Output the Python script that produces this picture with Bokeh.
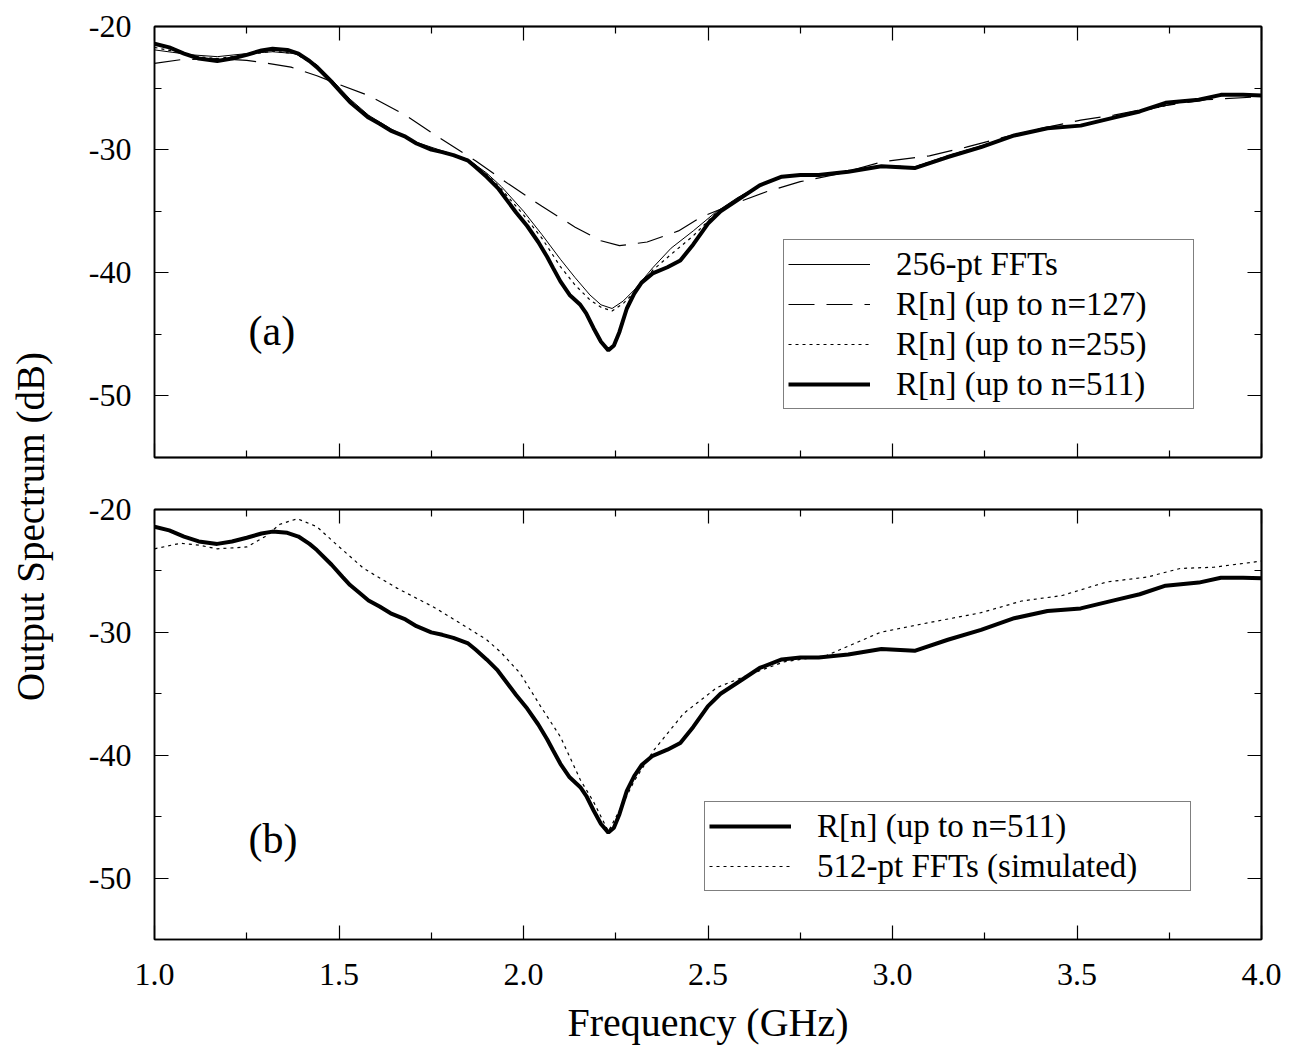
import numpy as np
from bokeh.plotting import figure
from bokeh.models import (Range1d, FixedTicker, LinearAxis, PrintfTickFormatter,
                          Legend, LegendItem, Label)
from bokeh.layouts import row, column
from bokeh.embed import file_html
from bokeh.resources import INLINE

FONT = "Liberation Serif"

# ---------------- data ----------------
# R[n] (up to n=511)  -- thick line, both panels
r511_f = [1.00, 1.04, 1.08, 1.12, 1.17, 1.21, 1.25, 1.29, 1.32, 1.36, 1.39, 1.42, 1.44,
          1.48, 1.51, 1.53, 1.56, 1.58, 1.61, 1.64, 1.68, 1.71, 1.75, 1.78, 1.81, 1.85,
          1.87, 1.90, 1.93, 1.955, 1.98, 2.01, 2.04, 2.064, 2.08, 2.10, 2.125, 2.154,
          2.17, 2.19, 2.21, 2.23, 2.245, 2.26, 2.28, 2.30, 2.32, 2.35, 2.39, 2.425, 2.46,
          2.50, 2.534, 2.59, 2.64, 2.70, 2.75, 2.80, 2.88, 2.97, 3.06, 3.15, 3.24, 3.33,
          3.42, 3.51, 3.60, 3.67, 3.74, 3.83, 3.89, 3.95, 4.00]
r511_db = [-21.4, -21.7, -22.2, -22.6, -22.8, -22.6, -22.3, -21.95, -21.8, -21.9, -22.2,
           -22.8, -23.3, -24.5, -25.5, -26.15, -26.9, -27.4, -27.9, -28.45, -28.95, -29.5,
           -30.0, -30.2, -30.45, -30.9, -31.4, -32.2, -33.1, -34.1, -35.1, -36.2, -37.5,
           -38.7, -39.6, -40.7, -41.8, -42.6, -43.3, -44.5, -45.6, -46.3, -45.9, -44.8,
           -42.9, -41.7, -40.8, -40.05, -39.55, -39.0, -37.7, -36.0, -35.0, -33.9, -32.9,
           -32.2, -32.05, -32.05, -31.8, -31.35, -31.5, -30.6, -29.8, -28.85, -28.26,
           -28.05, -27.4, -26.9, -26.2, -25.95, -25.55, -25.55, -25.6]

# 256-pt FFTs -- thin solid line
fft256_f = [1.00, 1.05, 1.10, 1.17, 1.25, 1.32, 1.38, 1.44, 1.48, 1.53, 1.58, 1.64, 1.71,
            1.78, 1.85, 1.90, 1.94, 2.00, 2.05, 2.10, 2.14, 2.18, 2.21, 2.24, 2.27, 2.30,
            2.35, 2.40, 2.46, 2.52, 2.58, 2.64, 2.70, 2.80, 2.90, 2.97, 3.06, 3.15, 3.24,
            3.33, 3.42, 3.51, 3.60, 3.70, 3.80, 3.90, 4.00]
fft256_db = [-21.9, -22.1, -22.3, -22.45, -22.2, -22.05, -22.2, -23.1, -24.3, -25.9, -27.2,
             -28.3, -29.4, -30.1, -30.8, -31.9, -33.0, -35.0, -36.9, -38.9, -40.4, -41.8,
             -42.6, -42.9, -42.3, -41.4, -39.6, -38.0, -36.6, -35.1, -33.9, -32.9, -32.2,
             -32.0, -31.7, -31.3, -31.4, -30.5, -29.7, -28.8, -28.25, -28.0, -27.35, -26.7,
             -26.0, -25.6, -25.6]

# R[n] (up to n=255) -- dotted line
r255_f = [1.00, 1.05, 1.10, 1.17, 1.25, 1.32, 1.38, 1.44, 1.48, 1.53, 1.58, 1.64, 1.71,
          1.78, 1.85, 1.90, 1.94, 2.00, 2.05, 2.10, 2.14, 2.18, 2.21, 2.24, 2.27, 2.30,
          2.35, 2.40, 2.46, 2.52, 2.58, 2.64, 2.70, 2.80, 2.90, 2.97, 3.06, 3.15, 3.24,
          3.33, 3.42, 3.51, 3.60, 3.70, 3.80, 3.90, 4.00]
r255_db = [-21.7, -22.0, -22.4, -22.6, -22.3, -22.0, -22.2, -23.2, -24.4, -26.0, -27.3,
           -28.4, -29.5, -30.15, -30.85, -32.0, -33.2, -35.3, -37.2, -39.5, -41.0, -42.2,
           -42.8, -43.1, -42.5, -41.6, -39.8, -38.5, -37.0, -35.2, -33.95, -32.9, -32.2,
           -32.0, -31.7, -31.3, -31.4, -30.5, -29.7, -28.8, -28.25, -28.0, -27.35, -26.7,
           -26.0, -25.6, -25.6]

# R[n] (up to n=127) -- dashed line
r127_f = [1.00, 1.07, 1.17, 1.25, 1.29, 1.37, 1.44, 1.50, 1.58, 1.68, 1.77, 1.87, 1.96,
          2.05, 2.14, 2.21, 2.26, 2.335, 2.42, 2.48, 2.57, 2.66, 2.75, 2.85, 2.97, 3.10,
          3.20, 3.30, 3.40, 3.51, 3.60, 3.70, 3.85, 4.00]
r127_db = [-23.0, -22.7, -22.6, -22.75, -22.9, -23.3, -24.0, -24.7, -25.6, -27.2, -29.0,
           -30.9, -32.8, -34.6, -36.3, -37.4, -37.8, -37.5, -36.6, -35.5, -34.4, -33.4,
           -32.6, -32.0, -31.0, -30.5, -29.8, -29.0, -28.3, -27.6, -27.2, -26.6, -25.95,
           -25.7]

# 512-pt FFTs (simulated) -- dotted line, panel (b)
fft512_f = [1.00, 1.07, 1.12, 1.17, 1.25, 1.30, 1.34, 1.387, 1.44, 1.495, 1.567, 1.657,
            1.757, 1.847, 1.90, 1.938, 1.99, 2.046, 2.10, 2.154, 2.19, 2.23, 2.26, 2.30,
            2.353, 2.434, 2.524, 2.615, 2.706, 2.82, 2.967, 3.10, 3.24, 3.35, 3.46, 3.58,
            3.69, 3.78, 3.87, 4.00]
fft512_db = [-23.2, -22.75, -22.9, -23.2, -23.05, -22.2, -21.2, -20.75, -21.4, -22.9, -24.8,
             -26.4, -27.95, -29.6, -30.6, -31.6, -33.3, -36.0, -38.5, -42.0, -43.8, -46.2,
             -44.5, -42.1, -39.6, -36.6, -34.5, -33.4, -32.4, -31.9, -30.0, -29.2, -28.4,
             -27.45, -27.0, -25.9, -25.5, -24.8, -24.7, -24.2]

x_major = [1.0, 1.5, 2.0, 2.5, 3.0, 3.5, 4.0]
x_minor = [1.25, 1.75, 2.25, 2.75, 3.25, 3.75]
y_major = [-50, -40, -30, -20]
y_minor = [-55, -45, -35, -25]

x_title = "Frequency (GHz)"
y_title = "Output Spectrum (dB)"

# ---------------- helpers ----------------
xr = Range1d(1.0, 4.0)


def base_axis(ticker, formatter=None):
    ax = LinearAxis(ticker=ticker)
    if formatter is not None:
        ax.formatter = formatter
    ax.axis_line_color = "black"
    ax.axis_line_width = 1.5
    ax.major_tick_in = 14
    ax.major_tick_out = 0
    ax.minor_tick_in = 7
    ax.minor_tick_out = 0
    ax.major_tick_line_color = "black"
    ax.minor_tick_line_color = "black"
    ax.major_tick_line_width = 1.2
    ax.minor_tick_line_width = 1.2
    ax.axis_label_standoff = 0
    return ax


def labelled_axis(major, minor, fmt, standoff):
    ax = base_axis(FixedTicker(ticks=major, minor_ticks=minor), PrintfTickFormatter(format=fmt))
    ax.major_label_text_font = FONT
    ax.major_label_text_font_size = "32px"
    ax.major_label_text_color = "black"
    ax.major_label_standoff = standoff
    return ax


def tick_only_axes(p, side, major, minor):
    # two label-free axes on the same edge: long ticks at majors, short at minors
    for ticks, length in ((major, 14), (minor, 7)):
        ax = base_axis(FixedTicker(ticks=[], minor_ticks=ticks))
        ax.major_tick_in = 0
        ax.minor_tick_in = length
        ax.major_label_standoff = 0
        p.add_layout(ax, side)


def make_panel(height, mb_top, mb_bottom, x_labels):
    p = figure(width=1213, height=height, x_range=xr, y_range=Range1d(-55, -20),
               output_backend="svg", toolbar_location=None,
               x_axis_type=None, y_axis_type=None,
               min_border_left=86, min_border_right=20,
               min_border_top=mb_top, min_border_bottom=mb_bottom)
    p.outline_line_color = "black"
    p.outline_line_width = 1.5
    p.background_fill_color = "white"
    p.border_fill_color = "white"
    if x_labels:
        p.add_layout(labelled_axis(x_major, x_minor, "%.1f", 24), "below")
    else:
        tick_only_axes(p, "below", x_major, x_minor)
    tick_only_axes(p, "above", x_major, x_minor)
    p.add_layout(labelled_axis(y_major, y_minor, "%d", 23), "left")
    tick_only_axes(p, "right", y_major, y_minor)
    return p


def style_legend(lg, label_width, loc):
    lg.location = loc
    lg.margin = 0
    lg.padding = 4
    lg.spacing = 0
    lg.glyph_width = 82
    lg.glyph_height = 40
    lg.label_height = 40
    lg.label_standoff = 26
    lg.label_width = label_width
    lg.label_text_font = FONT
    lg.label_text_font_size = "33px"
    lg.label_text_color = "black"
    lg.label_text_baseline = "middle"
    lg.border_line_color = "black"
    lg.border_line_width = 1
    lg.background_fill_color = "white"
    lg.background_fill_alpha = 1.0


# ---------------- panel (a) ----------------
pa = make_panel(482, 26, 25, False)
r_d = pa.line(r127_f, r127_db, line_color="black", line_width=1.2, line_dash="26 12")
r_t = pa.line(fft256_f, fft256_db, line_color="black", line_width=1.0)
r_o = pa.line(r255_f, r255_db, line_color="black", line_width=1.2, line_dash="3 4")
r_k = pa.line(r511_f, r511_db, line_color="black", line_width=4)
lg_a = Legend(items=[LegendItem(label="256-pt FFTs", renderers=[r_t]),
                     LegendItem(label="R[n] (up to n=127)", renderers=[r_d]),
                     LegendItem(label="R[n] (up to n=255)", renderers=[r_o]),
                     LegendItem(label="R[n] (up to n=511)", renderers=[r_k])])
style_legend(lg_a, 293, (629, 48))
pa.add_layout(lg_a)
pa.add_layout(Label(x=1.255, y=-44.7, text="(a)", text_font=FONT, text_font_size="42px",
                    text_baseline="middle", text_align="left", text_color="black"))

# ---------------- panel (b) ----------------
pb = make_panel(517, 27, 60, True)
s_o = pb.line(fft512_f, fft512_db, line_color="black", line_width=1.2, line_dash="3 4")
s_k = pb.line(r511_f, r511_db, line_color="black", line_width=4)
lg_b = Legend(items=[LegendItem(label="R[n] (up to n=511)", renderers=[s_k]),
                     LegendItem(label="512-pt FFTs (simulated)", renderers=[s_o])])
style_legend(lg_b, 369, (550, 48))
pb.add_layout(lg_b)
pb.add_layout(Label(x=1.255, y=-46.8, text="(b)", text_font=FONT, text_font_size="42px",
                    text_baseline="middle", text_align="left", text_color="black"))


def text_strip(width, height):
    f = figure(width=width, height=height, output_backend="svg", toolbar_location=None,
               x_axis_type=None, y_axis_type=None, min_border=0,
               min_border_left=0, min_border_right=0, min_border_top=0, min_border_bottom=0)
    f.outline_line_color = None
    f.border_fill_color = "white"
    f.background_fill_color = "white"
    return f


# ---------------- x title strip (below panel b) ----------------
# (the column aligns this strip's frame with the panels' frames)
px = text_strip(1213, 48)
px.add_layout(Label(x=1107 / 2, y=25, x_units="screen", y_units="screen",
                    text=x_title, text_font=FONT, text_font_size="40px",
                    text_color="black", text_align="center", text_baseline="middle"))

# ---------------- shared y title strip ----------------
total_h = 482 + 517 + 48
pl = text_strip(68, total_h)
pl.add_layout(Label(x=30, y=total_h - 526, x_units="screen", y_units="screen",
                    text=y_title, angle=np.pi / 2,
                    text_font=FONT, text_font_size="39px", text_color="black",
                    text_align="center", text_baseline="middle"))

layout = row(pl, column(pa, pb, px, spacing=0), spacing=0)
open("out.html", "w").write(file_html(layout, INLINE))
